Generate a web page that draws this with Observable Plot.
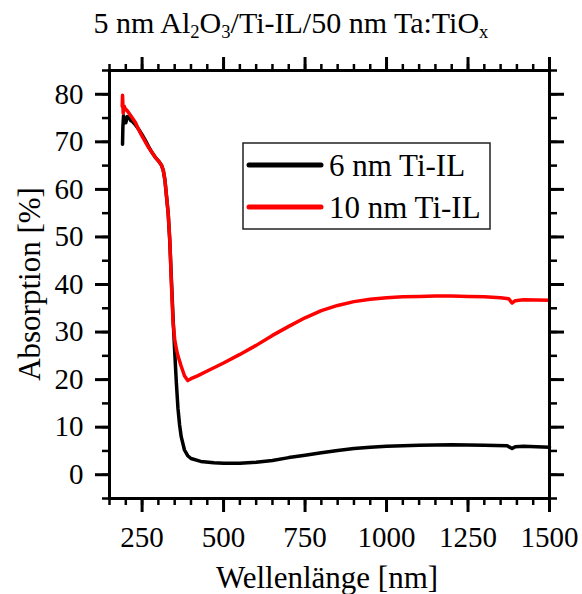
<!DOCTYPE html>
<html>
<head>
<meta charset="utf-8">
<script src="https://cdn.jsdelivr.net/npm/d3@7"></script>
<script src="https://cdn.jsdelivr.net/npm/@observablehq/plot@0.6"></script>
<style>
  html, body { margin: 0; padding: 0; background: #fff; }
  #wrap { position: relative; width: 582px; height: 594px; overflow: hidden; font-family: "Liberation Serif", serif; color: #000; }
  #wrap svg, #wrap svg text { font-family: "Liberation Serif", serif !important; }
  #title { position: absolute; left: 0; top: 8px; width: 582px; text-align: center; font-size: 30px; line-height: 30px; white-space: nowrap; }
  #title sub { font-size: 0.62em; line-height: 0; vertical-align: -0.28em; }
  #xlabel { position: absolute; left: 127px; width: 400px; top: 562px; text-align: center; font-size: 31px; line-height: 31px; white-space: nowrap; }
  #ylabel { position: absolute; left: 29px; top: 284px; transform: translate(-50%, -50%) rotate(-90deg); font-size: 31px; line-height: 31px; white-space: nowrap; }
  #plot { position: absolute; left: 0; top: 50px; }
  #legend { position: absolute; left: 0; top: 0; pointer-events: none; }
</style>
</head>
<body>
<div id="wrap">
  <div id="title">5 nm Al<sub>2</sub>O<sub>3</sub>/Ti-IL/50 nm Ta:TiO<sub>x</sub></div>
  <div id="plot"></div>
  <div id="xlabel"></div>
  <div id="ylabel"></div>
  <svg id="legend" width="582" height="594"></svg>
</div>
<script>
// ---- data ----
const seriesNames = ["6 nm Ti-IL", "10 nm Ti-IL"];
const seriesColors = ["#000000", "#ff0000"];

const wl6 = [190,191,193,196,200,205,210,215,220,230,240,250,260,270,280,290,300,310,315,320,325,330,335,340,345,350,355,360,365,370,380,390,400,430,470,500,550,600,650,700,750,800,850,900,950,1000,1100,1200,1300,1370,1385,1395,1420,1500];
const abs6 = [69.5,73,75.5,75,74,75.3,75.2,74.5,74.3,73.5,72.6,71.5,70.3,69,67.8,66.8,66,65,64,62,58.5,55,49,41,33,26,19.5,14,10.5,8,5.2,4,3.4,2.8,2.5,2.4,2.4,2.6,3,3.6,4.1,4.6,5.1,5.5,5.8,6,6.2,6.3,6.2,6.1,5.5,5.9,6,5.8];

const wl10 = [189,190,192,195,198,205,210,220,230,240,250,260,270,280,290,300,310,315,320,325,330,335,340,345,350,355,360,370,380,390,400,420,450,500,550,600,650,700,750,800,850,900,950,1000,1050,1100,1150,1200,1250,1300,1350,1375,1385,1395,1420,1500];
const abs10 = [77.5,79.8,76,77.5,77,76.5,76,75,74,72.5,71.2,70,68.8,67.8,66.8,66,65,64,62,58.5,55,49.5,40,32,28.5,26.5,25,22.8,20.8,19.8,20.2,20.8,21.8,23.5,25.3,27.2,29.3,31.2,33,34.5,35.6,36.4,36.9,37.2,37.4,37.5,37.6,37.6,37.5,37.4,37.2,37,36.1,36.6,36.8,36.7];

const xMajor = [250, 500, 750, 1000, 1250, 1500];
const xMinor = d3.range(150, 1501, 50);
const yMajor = [0, 10, 20, 30, 40, 50, 60, 70, 80];
const yMinor = d3.range(-5, 86, 5);

const xLabel = "Wellenlänge [nm]";
const yLabel = "Absorption [%]";

// ---- build ----
const d6 = wl6.map((w, i) => ({w, a: abs6[i]}));
const d10 = wl10.map((w, i) => ({w, a: abs10[i]}));

const font = "'Liberation Serif', serif";
const tickFont = 29;

const chart = Plot.plot({
  width: 582,
  height: 544,
  marginLeft: 109,
  marginRight: 33,
  marginTop: 20,
  marginBottom: 96,
  style: {fontFamily: font, background: "white", color: "black"},
  x: {domain: [150, 1500]},
  y: {domain: [-5, 85]},
  marks: [
    Plot.line(d6, {x: "w", y: "a", stroke: seriesColors[0], strokeWidth: 3.5, strokeLinejoin: "round"}),
    Plot.line(d10, {x: "w", y: "a", stroke: seriesColors[1], strokeWidth: 3.5, strokeLinejoin: "round"}),
    // minor ticks
    Plot.axisX({ticks: xMinor, anchor: "bottom", tickSize: 7, strokeWidth: 2.5, fill: "none", label: null}),
    Plot.axisX({ticks: xMinor, anchor: "top", tickSize: 7, strokeWidth: 2.5, fill: "none", label: null}),
    Plot.axisY({ticks: yMinor, anchor: "left", tickSize: 7, strokeWidth: 2.5, fill: "none", label: null}),
    Plot.axisY({ticks: yMinor, anchor: "right", tickSize: 7, strokeWidth: 2.5, fill: "none", label: null}),
    // major ticks
    Plot.axisX({ticks: xMajor, anchor: "top", tickSize: 14, strokeWidth: 3, fill: "none", label: null}),
    Plot.axisY({ticks: yMajor, anchor: "right", tickSize: 14, strokeWidth: 3, fill: "none", label: null}),
    Plot.axisX({ticks: xMajor, anchor: "bottom", tickSize: 14, tickPadding: 14, strokeWidth: 3, fontSize: tickFont,
      fontFamily: font, tickFormat: d => String(d), label: null}),
    Plot.axisY({ticks: yMajor, anchor: "left", tickSize: 14, tickPadding: 12, strokeWidth: 3, fontSize: tickFont,
      fontFamily: font, tickFormat: d => String(d), label: null}),
    Plot.frame({stroke: "black", strokeWidth: 3})
  ]
});
document.getElementById("plot").appendChild(chart);
document.getElementById("xlabel").textContent = xLabel;
document.getElementById("ylabel").textContent = yLabel;

// ---- legend ----
const lg = d3.select("#legend");
const box = {x: 243, y: 143, w: 247, h: 86};
lg.append("rect").attr("x", box.x).attr("y", box.y).attr("width", box.w).attr("height", box.h)
  .attr("fill", "white").attr("stroke", "#222").attr("stroke-width", 1.5);
seriesNames.forEach((name, i) => {
  const cy = box.y + 22 + i * 42;
  lg.append("line").attr("x1", box.x + 6).attr("x2", box.x + 78).attr("y1", cy).attr("y2", cy)
    .attr("stroke", seriesColors[i]).attr("stroke-width", 5).attr("stroke-linecap", "round");
  lg.append("text").attr("x", box.x + 86).attr("y", cy + 11).text(name)
    .style("font-family", font).style("font-size", "31px").attr("fill", "black");
});
</script>
</body>
</html>
